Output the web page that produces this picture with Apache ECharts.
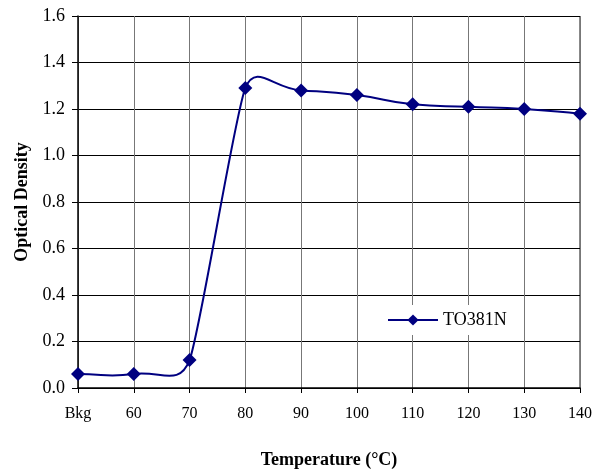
<!DOCTYPE html>
<html><head><meta charset="utf-8">
<script src="https://cdn.jsdelivr.net/npm/echarts@6/dist/echarts.min.js"></script>
<style>html,body{margin:0;padding:0;background:#fff}#c{width:597px;height:469px}</style>
</head><body><div id="c"></div>
<script>
const categories = ['Bkg','60','70','80','90','100','110','120','130','140'];
const seriesName = 'TO381N';
const values = [0.06, 0.06, 0.12, 1.29, 1.28, 1.26, 1.22, 1.21, 1.20, 1.18];
const yTicks = {min: 0, max: 1.6, interval: 0.2};
const font = 'Liberation Serif';
const navy = '#000080';
const chart = echarts.init(document.getElementById('c'));

// Excel-like smoothed curve: cubic Bezier between data points; tangent direction
// from neighbouring points, length tied to the shorter adjacent segment.
function renderSegment(params, api) {
  const i = params.dataIndex;
  if (i >= values.length - 1) return null;
  const n = values.length;
  const P = k => api.coord([k, values[k]]);
  const p1 = P(i), p2 = P(i + 1);
  const p0 = i > 0 ? P(i - 1) : p1;
  const p3 = i + 2 < n ? P(i + 2) : p2;
  const d = (a, b) => Math.hypot(b[0] - a[0], b[1] - a[1]);
  const cur = d(p1, p2);
  const k = 0.5;
  const len1 = k * (i > 0 ? Math.min(d(p0, p1), cur) : cur);
  const len2 = k * (i + 2 < n ? Math.min(d(p2, p3), cur) : cur);
  const t1 = d(p0, p2) || 1, t2 = d(p1, p3) || 1;
  const c1 = [p1[0] + (p2[0] - p0[0]) / t1 * len1, p1[1] + (p2[1] - p0[1]) / t1 * len1];
  const c2 = [p2[0] - (p3[0] - p1[0]) / t2 * len2, p2[1] - (p3[1] - p1[1]) / t2 * len2];
  return {
    type: 'bezierCurve',
    shape: {x1: p1[0], y1: p1[1], x2: p2[0], y2: p2[1],
            cpx1: c1[0], cpy1: c1[1], cpx2: c2[0], cpy2: c2[1]},
    style: {stroke: navy, lineWidth: 2, fill: null}
  };
}

chart.setOption({
  animation: false,
  backgroundColor: '#fff',
  grid: {left: 78, right: 17, top: 16, bottom: 81, containLabel: false, outerBoundsMode: 'none'},
  legend: {
    data: [{name: seriesName}], left: 383, top: 305, backgroundColor: '#fff',
    padding: [6, 10, 6, 4], itemWidth: 50, itemHeight: 14, itemGap: 4,
    lineStyle: {color: navy, width: 2, opacity: 1},
    textStyle: {fontFamily: font, fontSize: 18, color: '#000'}
  },
  xAxis: {
    type: 'category', data: categories, boundaryGap: false,
    name: 'Temperature (°C)', nameLocation: 'middle', nameGap: 63,
    nameTextStyle: {fontFamily: font, fontSize: 18, fontWeight: 'bold', color: '#000'},
    axisLine: {lineStyle: {color: '#000', width: 1.5}},
    axisTick: {show: true, length: 5, lineStyle: {color: '#000'}},
    axisLabel: {fontFamily: font, fontSize: 16, color: '#000', margin: 18},
    splitLine: {show: true, lineStyle: {color: '#777', width: 1}}
  },
  yAxis: {
    type: 'value', min: yTicks.min, max: yTicks.max, interval: yTicks.interval,
    name: 'Optical Density', nameLocation: 'middle', nameGap: 41,
    nameTextStyle: {fontFamily: font, fontSize: 18, fontWeight: 'bold', color: '#000'},
    axisLine: {show: true, lineStyle: {color: '#000', width: 1.5}},
    axisTick: {show: true, length: 6, lineStyle: {color: '#000'}},
    axisLabel: {fontFamily: font, fontSize: 18, color: '#000', margin: 13,
      formatter: v => v.toFixed(1)},
    splitLine: {show: true, lineStyle: {color: '#000', width: 1}}
  },
  graphic: [{type: 'line', shape: {x1: 580, y1: 16, x2: 580, y2: 388},
    style: {stroke: '#888', lineWidth: 2}, z: 0}],
  series: [
    {
      name: 'curve', type: 'custom', data: values.map((v, i) => [i, v]),
      renderItem: renderSegment, z: 2, silent: true,
      encode: {x: 0, y: 1}
    },
    {
      name: seriesName, type: 'line', data: values, smooth: false,
      symbol: 'diamond', symbolSize: 14, z: 3,
      lineStyle: {color: navy, width: 2, opacity: 0},
      itemStyle: {color: navy}
    }
  ]
});
</script></body></html>
